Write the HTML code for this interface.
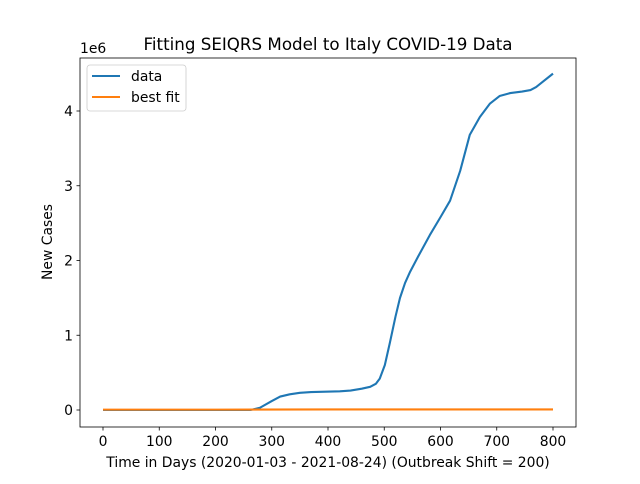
<!DOCTYPE html>
<html><head><meta charset="utf-8"><style>
body{margin:0;background:#fff;font-family:"DejaVu Sans","Liberation Sans",sans-serif}
svg text{font-family:"DejaVu Sans","Liberation Sans",sans-serif;fill:#000}
</style></head><body>
<svg id="c" width="640" height="480" viewBox="0 0 640 480">
<rect width="640" height="480" fill="#fff"/>
<text x="328" y="50" font-size="16.7" text-anchor="middle">Fitting SEIQRS Model to Italy COVID-19 Data</text>
<g id="plot"></g>
<rect x="80" y="58" width="496" height="369" fill="none" stroke="#000" stroke-width="0.8"/>
<text x="328" y="467" font-size="13.9" text-anchor="middle">Time in Days (2020-01-03 - 2021-08-24) (Outbreak Shift = 200)</text>
<text transform="translate(52,242) rotate(-90)" font-size="13.9" text-anchor="middle">New Cases</text>
<text x="80" y="53" font-size="13.9">1e6</text>
<g>
<rect x="87" y="65" width="99" height="46" rx="3" fill="#fff" stroke="#ccc" stroke-width="0.8" fill-opacity="0.8"/>
<line x1="92" y1="76" x2="120" y2="76" stroke="#1f77b4" stroke-width="2.1"/>
<text x="131" y="81" font-size="13.9">data</text>
<line x1="92" y1="97" x2="120" y2="97" stroke="#ff7f0e" stroke-width="2.1"/>
<text x="131" y="102" font-size="13.9">best fit</text>
</g>
</svg>
<script>
const dataDays=[0,100,200,262,279,300,315,332,350,370,421,440,460,475,485,492,501,510,520,528,537,546,560,581,600,617,635,652,670,688,705,724,745,760,770,780,800];
const dataVals=[0,0,0,0,0.03,0.12,0.18,0.21,0.23,0.24,0.25,0.26,0.285,0.31,0.35,0.42,0.6,0.9,1.25,1.5,1.7,1.85,2.05,2.34,2.58,2.8,3.2,3.68,3.92,4.1,4.2,4.24,4.26,4.28,4.32,4.38,4.5];
const fitDays=[0,200,400,600,800];
const fitVals=[0.005,0.005,0.008,0.008,0.008];
const xTicks=[0,100,200,300,400,500,600,700,800];
const yTicks=[0,1,2,3,4];
const X=d=>103+d*450/800, Y=v=>410-v*74.75;
const g=document.getElementById('plot'),ns='http://www.w3.org/2000/svg';
function mk(t,a){const e=document.createElementNS(ns,t);for(const k in a)e.setAttribute(k,a[k]);g.appendChild(e);return e;}
xTicks.forEach(t=>{
 const l=mk('line',{x1:X(t),x2:X(t),y1:427,y2:430.5,stroke:'#000','stroke-width':0.8});
 
 
 const s=mk('text',{x:X(t),y:446,'font-size':13.9,'text-anchor':'middle'});s.textContent=t;
 
 
});
yTicks.forEach(t=>{
 const l=mk('line',{x1:76.5,x2:80,y1:Y(t),y2:Y(t),stroke:'#000','stroke-width':0.8});
 
 
 const s=mk('text',{x:73,y:Y(t)+5,'font-size':13.9,'text-anchor':'end'});s.textContent=t;
 
 
});
const p1=mk('polyline',{points:dataDays.map((d,i)=>X(d)+','+Y(dataVals[i])).join(' '),fill:'none',stroke:'#1f77b4','stroke-width':2.1,'stroke-linejoin':'round'});


const p2=mk('polyline',{points:fitDays.map((d,i)=>X(d)+','+Y(fitVals[i])).join(' '),fill:'none',stroke:'#ff7f0e','stroke-width':2.1});


</script>
</body></html>
